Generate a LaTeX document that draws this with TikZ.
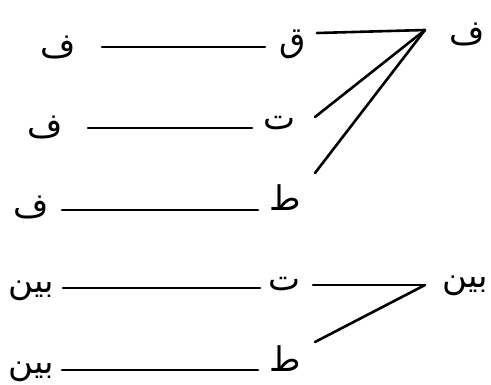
\documentclass[tikz,border=0pt]{standalone}
\usepackage{fontspec}
\usetikzlibrary{calc}
\newfontfamily\arabicfont[Script=Arabic]{DejaVu Sans}
\TeXXeTstate=1
\newcommand{\ar}[1]{{\arabicfont\beginR #1\endR}}
\tikzset{
  lbl/.style={inner sep=0pt, font=\fontsize{34}{38}\selectfont\arabicfont},
  ln/.style={line width=2.6pt, line cap=round}
}
\begin{document}
\begin{tikzpicture}[x=1pt,y=-1pt]
\useasboundingbox (0,0) rectangle (491,384);
% nodes
\node[lbl] (r1) at (467,34) {\ar{ف}};
\node[lbl] (q) at (293,44) {\ar{ق}};
\node[lbl] (l1) at (58,47) {\ar{ف}};
\node[lbl] (l2) at (45,127) {\ar{ف}};
\node[lbl] (t1) at (280,123) {\ar{ت}};
\node[lbl] (ta1) at (285,198) {\ar{ط}};
\node[lbl] (l3) at (31,207) {\ar{ف}};
\node[lbl] (t2) at (285,284) {\ar{ت}};
\node[lbl] (r2) at (465,286) {\ar{بين}};
\node[lbl] (l4) at (31,291) {\ar{بين}};
\node[lbl] (ta2) at (285,359) {\ar{ط}};
\node[lbl] (l5) at (31,372) {\ar{بين}};
\coordinate (a1) at ($(r1.center)+(-42,-4)$);
\coordinate (a2) at ($(r2.center)+(-40,-1)$);
% connectors
\draw[ln] ($(l1.center)+(44,0)$) -- ($(q.center)+(-28,3)$);
\draw[ln] ($(q.center)+(24,-11)$) -- (a1);
\draw[ln] (a1) -- ($(t1.center)+(35,-6)$);
\draw[ln] (a1) -- ($(ta1.center)+(30,-25)$);
\draw[ln] ($(l2.center)+(43,1)$) -- ($(t1.center)+(-28,5)$);
\draw[ln] ($(l3.center)+(31,3)$) -- ($(ta1.center)+(-27,12)$);
\draw[ln] ($(l4.center)+(32,-3)$) -- ($(t2.center)+(-25,4)$);
\draw[ln] ($(t2.center)+(28,1)$) -- (a2);
\draw[ln] (a2) -- ($(ta2.center)+(30,-17)$);
\draw[ln] ($(l5.center)+(31,-2)$) -- ($(ta2.center)+(-27,11)$);
\end{tikzpicture}
\end{document}
